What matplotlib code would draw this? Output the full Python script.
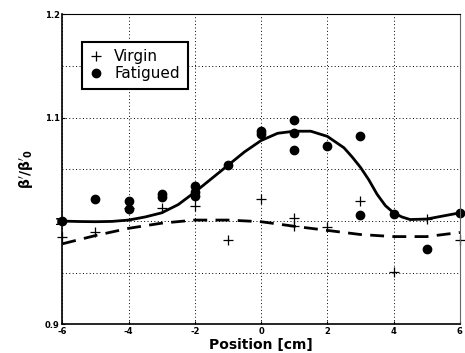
import numpy as np
import matplotlib
matplotlib.use("Agg")
import matplotlib.pyplot as plt
from matplotlib.ticker import FixedLocator

# measured points
virgin_x = [-6, -5, -4, -3, -2, -1, 0, 1, 1, 2, 3, 4, 5, 6]
virgin_y = [0.985, 0.989, 1.013, 1.013, 1.015, 0.982, 1.021, 1.003, 0.995,
            0.994, 1.019, 0.951, 1.002, 0.982]

fat_x = [-6, -5, -4, -4, -3, -3, -2, -2, -2, -1, 0, 0, 1, 1, 1, 2, 3, 3, 4, 5, 6]
fat_y = [1.000, 1.021, 1.019, 1.012, 1.026, 1.023, 1.034, 1.028, 1.024,
         1.054, 1.087, 1.084, 1.098, 1.085, 1.069, 1.073, 1.082, 1.006,
         1.007, 0.973, 1.008]

# fitted curves
fat_fit_x = [-6, -5.5, -5, -4.5, -4, -3.5, -3, -2.5, -2, -1.5, -1, -0.5, 0,
             0.5, 1, 1.5, 2, 2.5, 2.75, 3, 3.25, 3.5, 3.75, 4, 4.25, 4.5,
             5, 5.5, 6]
fat_fit_y = [1.000, 0.9996, 0.9994, 0.9997, 1.001, 1.004, 1.008, 1.016, 1.028,
             1.041, 1.054, 1.067, 1.078, 1.085, 1.087, 1.087, 1.082, 1.071,
             1.062, 1.052, 1.040, 1.026, 1.015, 1.008, 1.004, 1.0015,
             1.002, 1.005, 1.008]
vir_fit_x = [-6, -5, -4, -3, -2, -1, 0, 1, 2, 3, 4, 5, 6]
vir_fit_y = [0.978, 0.986, 0.993, 0.998, 1.001, 1.001, 0.9994, 0.995, 0.991,
             0.987, 0.985, 0.985, 0.989]

x_ticks = [-6, -4, -2, 0, 2, 4, 6]
y_ticks = [0.9, 1.0, 1.1, 1.2]
y_tick_labels = ['0.9', '1', '1.1', '1.2']

fig = plt.figure(figsize=(4.65, 3.53), dpi=100)
ax = fig.add_axes([0.134, 0.081, 0.855, 0.878])

ax.plot(fat_fit_x, fat_fit_y, color='black', lw=2)
ax.plot(vir_fit_x, vir_fit_y, color='black', lw=2, ls=(0, (5, 3)))
ax.plot(virgin_x, virgin_y, '+', color='black', ms=7, mew=0.9, label='Virgin', clip_on=False)
ax.plot(fat_x, fat_y, 'o', color='black', ms=6, label='Fatigued', clip_on=False)

ax.set_xlim(-6, 6)
ax.set_ylim(0.9, 1.2)
ax.xaxis.set_major_locator(FixedLocator(x_ticks))
ax.yaxis.set_major_locator(FixedLocator(y_ticks))
ax.yaxis.set_minor_locator(FixedLocator([0.95, 1.05, 1.15]))
ax.set_xticklabels([str(v) for v in x_ticks])
ax.set_yticklabels(y_tick_labels)
ax.grid(True, which='both', color='black', ls=(0, (1, 2.5)), lw=0.7)
ax.tick_params(which='both', direction='in', length=2, labelsize=6, pad=2)
ax.tick_params(axis='y', which='minor', length=0)
for lab in ax.get_xticklabels() + ax.get_yticklabels():
    lab.set_fontweight('bold')

ax.spines['top'].set_linestyle((0, (1, 1)))
ax.spines['top'].set_linewidth(0.8)
ax.spines['right'].set_color('0.4')
ax.spines['right'].set_linewidth(0.8)
ax.spines['left'].set_linewidth(1.2)
ax.spines['bottom'].set_linewidth(1.2)

ax.set_xlabel('Position [cm]', fontsize=10, fontweight='bold', labelpad=1)
ax.set_ylabel(r"$\mathbf{\beta'/\beta'_0}$", fontsize=10, labelpad=6)

leg = ax.legend(loc='upper left', bbox_to_anchor=(0.05, 0.912), fontsize=11,
                fancybox=False, edgecolor='black', framealpha=1,
                handlelength=0.8, handletextpad=0.8, borderpad=0.5,
                labelspacing=0.1, borderaxespad=0)
leg.get_frame().set_linewidth(1.5)

fig.savefig('out.png', dpi=100)
